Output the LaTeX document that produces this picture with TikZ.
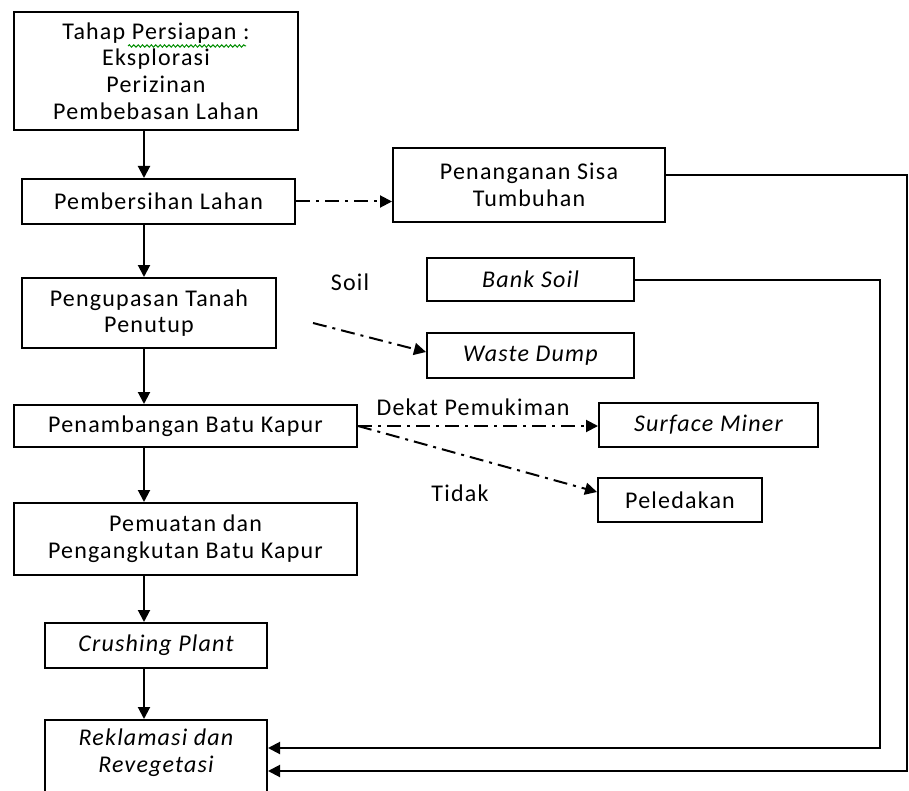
\documentclass[tikz,border=0pt]{standalone}
\usepackage{fontspec}
\setmainfont{Carlito}[LetterSpace=5]
\usetikzlibrary{arrows.meta,decorations.pathmorphing}
\begin{document}
\begin{tikzpicture}[x=0.5pt,y=-0.5pt,
  txt/.style={font=\fontsize{12}{13.3}\selectfont},
  box/.style={txt, draw, line width=1pt, align=center, inner sep=2pt},
  itbox/.style={box, font=\fontsize{12}{13.3}\selectfont\itshape},
  arr/.style={line width=1pt, -{Triangle[length=6pt,width=6pt]}},
  dd/.style={arr, dash pattern=on 7pt off 3pt on 1.5pt off 3pt},
  squig/.style={green!55!black, line width=0.5pt, decorate, decoration={snake, amplitude=0.6pt, segment length=2.2pt}},
  lbl/.style={txt, inner sep=1pt}]
\useasboundingbox (0,0) rectangle (909,791);

% nodes
\node[box, minimum width=142pt, minimum height=59pt] (tahap) at (156,71)
  {Tahap Persiapan :\\Eksplorasi\\Perizinan\\Pembebasan Lahan};
\node[box, minimum width=136.5pt, minimum height=22.5pt] (bersih) at (158.5,201.5) {Pembersihan Lahan};
\node[box, minimum width=136pt, minimum height=37pt] (sisa) at (529,185) {Penanganan Sisa\\Tumbuhan};
\node[box, minimum width=127pt, minimum height=35pt] (kupas) at (149,313) {Pengupasan Tanah\\Penutup};
\node[itbox, minimum width=103.5pt, minimum height=21.5pt] (bank) at (530.5,279.5) {Bank Soil};
\node[itbox, minimum width=103.5pt, minimum height=22.5pt] (waste) at (530.5,355.5) {Waste Dump};
\node[box, minimum width=171.5pt, minimum height=21pt] (tambang) at (185.5,426) {Penambangan Batu Kapur};
\node[itbox, minimum width=109.5pt, minimum height=22pt] (surface) at (708.5,425) {Surface Miner};
\node[box, minimum width=82pt, minimum height=22pt] (ledak) at (680,500) {Peledakan};
\node[box, minimum width=171.5pt, minimum height=36pt] (muat) at (185.5,539) {Pemuatan dan\\Pengangkutan Batu Kapur};
\node[itbox, minimum width=111pt, minimum height=22.5pt] (crush) at (156,645.5) {Crushing Plant};
\node[box, minimum width=111pt, minimum height=48pt] (rek) at (156,768) {};
\node[lbl, align=center, font=\fontsize{12}{13.3}\selectfont\itshape] (rektext) at (156,753) {Reklamasi dan\\Revegetasi};

% spell-check squiggle under "Persiapan :"
\coordinate (sq1) at (128,46);
\coordinate (sq2) at (246,46);
\draw[squig] (sq1) -- (sq2);

% labels
\node[lbl] (soil) at (350,282) {Soil};
\node[lbl] (dekat) at (473,407) {Dekat Pemukiman};
\node[lbl] (tidak) at (460,493) {Tidak};

% main vertical flow
\coordinate (ax) at (144,0);
\draw[arr] (tahap.south -| ax) -- (bersih.north -| ax);
\draw[arr] (bersih.south -| ax) -- (kupas.north -| ax);
\draw[arr] (kupas.south -| ax) -- (tambang.north -| ax);
\draw[arr] (tambang.south -| ax) -- (muat.north -| ax);
\draw[arr] (muat.south -| ax) -- (crush.north -| ax);
\draw[arr] (crush.south -| ax) -- (rek.north -| ax);

% dash-dot branches
\draw[dd] (bersih.east) -- (bersih.east -| sisa.west);
\coordinate (k1) at (313,323);
\draw[dd] (k1) -- ([yshift=1.75pt]waste.west);
\draw[dd] (tambang.east) -- (tambang.east -| surface.west);
\draw[dd] (tambang.east) -- ([yshift=4pt]ledak.west);

% return lines
\coordinate (c1) at (907,771);
\coordinate (c2) at (880,748);
\draw[arr] ([yshift=5pt]sisa.east) -| (c1) -- (c1 -| rek.east);
\draw[arr] (bank.east) -| (c2) -- (c2 -| rek.east);
\end{tikzpicture}
\end{document}
